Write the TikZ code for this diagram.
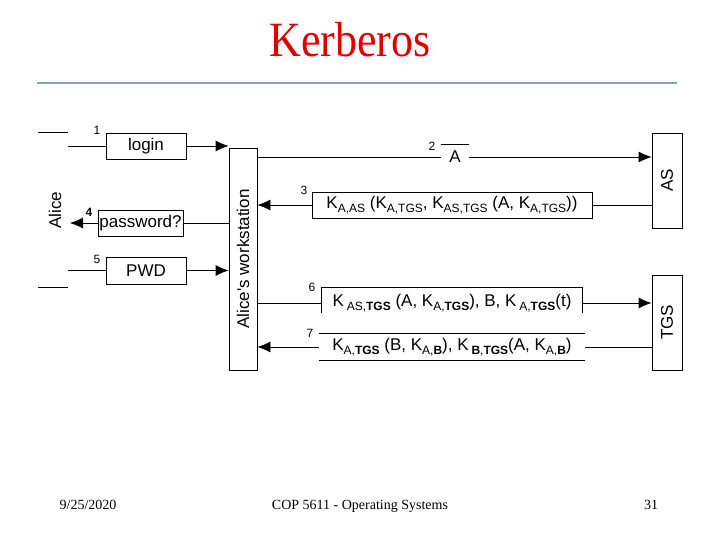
\documentclass[tikz,border=0pt]{standalone}
\usepackage{fontspec}
\setmainfont{Liberation Serif}
\newfontfamily\arialf{Liberation Sans}
\usetikzlibrary{arrows.meta}
\newcommand\ksub[1]{\raisebox{-4pt}{\fontsize{12}{12}\selectfont #1}}
\begin{document}
\begin{tikzpicture}[x=1pt,y=-1pt,
  box/.style={draw, line width=0.8pt, inner sep=0pt, font=\arialf\fontsize{17}{17}\selectfont},
  msg/.style={inner sep=0pt, font=\arialf\fontsize{17}{17}\selectfont},
  lbl/.style={inner sep=0pt, font=\arialf\fontsize{12}{12}\selectfont},
  rtext/.style={rotate=90, inner sep=0pt, font=\arialf\fontsize{17}{17}\selectfont},
  conn/.style={line width=0.8pt},
  arr/.style={conn, -{Latex[length=13pt,width=11pt]}},
  foot/.style={inner sep=0pt, anchor=base, font=\fontsize{14}{14}\selectfont}]
\useasboundingbox (0,0) rectangle (720,540);
% title
\node[inner sep=0pt, text=red!88!black, font=\fontsize{44}{44}\selectfont] (title) at (350,40) {\scalebox{1}[1.12]{Kerberos}};
\draw[line width=2.2pt, color={rgb,255:red,127;green,159;blue,196}] (37,83) -- (677,83);
% footer
\node[foot] (date) at (88,509) {9/25/2020};
\node[foot] (course) at (360,509) {COP 5611 - Operating Systems};
\node[foot] (page) at (651,509) {31};
% Alice side
\coordinate (t1) at (38,132); \coordinate (t2) at (68,132);
\coordinate (b1) at (38,287); \coordinate (b2) at (68,287);
\draw[conn] (t1) -- (t2);
\draw[conn] (b1) -- (b2);
\node[rtext] (alice) at (55,210) {Alice};
\coordinate (a1) at (68,146);
\coordinate (a4) at (70,223);
\coordinate (a5) at (68,270.5);
% boxes
\node[box, minimum width=28, minimum height=222] (ws) at (243,259) {};
\node[rtext] (wst) at (ws.center) {Alice's workstation};
\node[box, minimum width=30, minimum height=95] (as) at (667,180.5) {};
\node[rtext] (ast) at (as.center) {AS};
\node[box, minimum width=30, minimum height=95] (tgs) at (667,322.5) {};
\node[rtext] (tgst) at (tgs.center) {TGS};
% messages
\node[box, minimum width=80, minimum height=26] (login) at (146,146) {login};
\node[box, minimum width=85, minimum height=26] (pw) at (140.5,223) {password?};
\node[box, minimum width=80, minimum height=27] (pwd) at (146,270.5) {PWD};
\node[msg, minimum width=28, minimum height=24] (mA) at (455,157) {A};
\node[box, minimum width=280, minimum height=26] (m3) at (452,205) {K\ksub{A,AS} (K\ksub{A,TGS}, K\ksub{AS,TGS} (A, K\ksub{A,TGS}))};
\node[msg, minimum width=260, minimum height=30] (m6) at (452,303) {K\,\ksub{AS,\textbf{TGS}} (A, K\ksub{A,\textbf{TGS}}), B, K\,\ksub{A,\textbf{TGS}}(t)};
\node[msg, minimum width=266, minimum height=26] (m7) at (452,347) {K\ksub{A,\textbf{TGS}} (B, K\ksub{A,\textbf{B}}), K\,\ksub{\textbf{B},\textbf{TGS}}(A, K\ksub{A,\textbf{B}})};
\draw[conn] (mA.north west) -- (mA.north east);
\draw[conn] ([yshift=5pt]m6.south west) -- (m6.north west) -- (m6.north east) -- ([yshift=5pt]m6.south east);
\draw[conn] (m7.north west) -- (m7.north east);
\draw[conn] (m7.south west) -- (m7.south east);
% connectors
\draw[conn] (a1) -- (login);
\draw[arr] (login) -- (ws.west |- login);
\draw[conn] (ws.west |- pw) -- (pw.east);
\draw[arr] (pw.west) -- (a4);
\draw[conn] (a5) -- (pwd);
\draw[arr] (pwd) -- (ws.west |- pwd);
\draw[conn] (ws.east |- mA) -- (mA.west);
\draw[arr] (mA.east) -- (as.west |- mA);
\draw[conn] (as.west |- m3) -- (m3.east);
\draw[arr] (m3.west) -- (ws.east |- m3);
\draw[conn] (ws.east |- m6) -- (m6.west);
\draw[arr] (m6.east) -- (tgs.west |- m6);
\draw[conn] (tgs.west |- m7) -- (m7.east);
\draw[arr] (m7.west) -- (ws.east |- m7);
% numbers
\node[lbl] (n1) at (97,130) {1};
\node[lbl] (n2) at (432,146) {2};
\node[lbl] (n3) at (304,190) {3};
\node[lbl, font=\arialf\bfseries\fontsize{12}{12}\selectfont] (n4) at (89,212) {4};
\node[lbl] (n5) at (97,259) {5};
\node[lbl] (n6) at (312,287) {6};
\node[lbl] (n7) at (310,333) {7};
\end{tikzpicture}
\end{document}
